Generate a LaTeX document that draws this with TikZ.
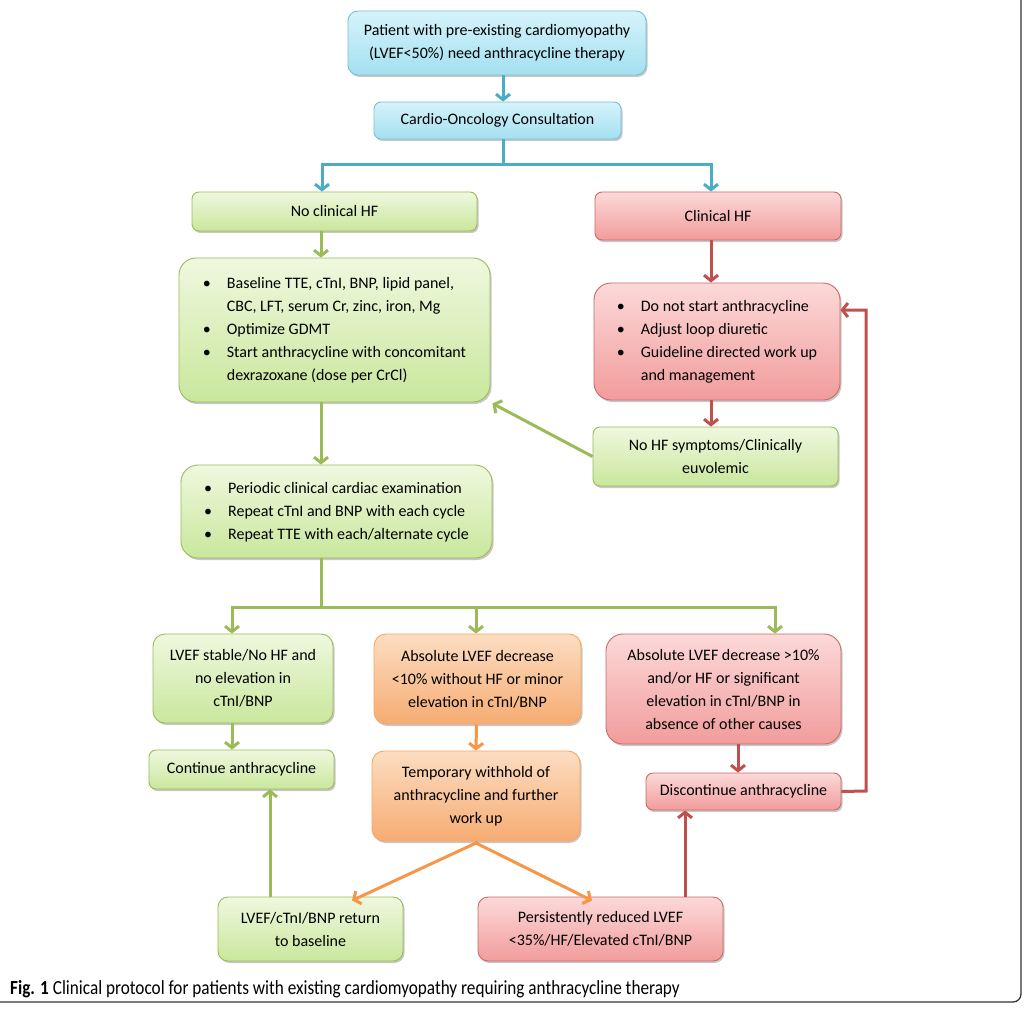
\documentclass[tikz,border=0pt]{standalone}
\usepackage{fontspec}
\setmainfont{Carlito}
\usetikzlibrary{arrows.meta,shadows,calc}
\definecolor{bluefillA}{HTML}{D6F3FB}
\definecolor{bluefillB}{HTML}{A3E0F0}
\definecolor{blueline}{HTML}{4BACC6}
\definecolor{greenfillA}{HTML}{EFF8DF}
\definecolor{greenfillB}{HTML}{C9E79C}
\definecolor{greenline}{HTML}{9BBB59}
\definecolor{redfillA}{HTML}{FCD9D9}
\definecolor{redfillB}{HTML}{F19C9B}
\definecolor{redline}{HTML}{C0504D}
\definecolor{orfillA}{HTML}{FCDDC2}
\definecolor{orfillB}{HTML}{F6AC72}
\definecolor{orline}{HTML}{F79646}
\newcommand\bitem[1]{\textbullet & #1}
\newcommand\citem[1]{ & #1}
\begin{document}
\begin{tikzpicture}[x=1pt,y=-1pt,
  box/.style={draw, line width=0.9pt, inner sep=0pt, align=center,
    font=\fontsize{16}{23}\selectfont, rounded corners=7pt,
    drop shadow={shadow xshift=1.5pt, shadow yshift=-2pt, opacity=0.22, fill=black}},
  bluebox/.style={box, draw=blueline!75, top color=bluefillA, bottom color=bluefillB},
  greenbox/.style={box, draw=greenline, top color=greenfillA, bottom color=greenfillB},
  redbox/.style={box, draw=redline!85, top color=redfillA, bottom color=redfillB},
  orbox/.style={box, draw=orline!85, top color=orfillA, bottom color=orfillB},
  big/.style={rounded corners=17pt},
  arr/.style={line width=3pt, -{Straight Barb[length=5.5pt,width=14pt]}},
  ln/.style={line width=3pt}
]
\useasboundingbox (0,0) rectangle (1024,1008);
\fill[white] (0,0) rectangle (1024,1008);

% nodes
\node[bluebox, rounded corners=10pt, minimum width=298pt, minimum height=64pt] (top) at (497,43)
  {Patient with pre-existing cardiomyopathy\\(LVEF<50\%) need anthracycline therapy};
\node[bluebox, minimum width=247pt, minimum height=37pt] (cons) at (497.5,120.5) {Cardio-Oncology Consultation};
\node[greenbox, minimum width=285pt, minimum height=39pt] (nohf) at (334.5,211.5) {No clinical HF};
\node[redbox, minimum width=246pt, minimum height=48pt] (clin) at (718,216) {Clinical HF};
\node[greenbox, big, minimum width=311pt, minimum height=144pt] (base) at (334.5,330)
  {\begin{tabular}{@{}l@{\hspace{16pt}}l@{}}
   \bitem{Baseline TTE, cTnI, BNP, lipid panel,}\\
   \citem{CBC, LFT, serum Cr, zinc, iron, Mg}\\
   \bitem{Optimize GDMT}\\
   \bitem{Start anthracycline with concomitant}\\
   \citem{dexrazoxane (dose per CrCl)}
   \end{tabular}};
\node[redbox, big, minimum width=246pt, minimum height=117pt] (redb) at (717,341.5)
  {\begin{tabular}{@{}l@{\hspace{16pt}}l@{}}
   \bitem{Do not start anthracycline}\\
   \bitem{Adjust loop diuretic}\\
   \bitem{Guideline directed work up}\\
   \citem{and management}
   \end{tabular}};
\node[greenbox, minimum width=245pt, minimum height=59pt] (nosym) at (715.5,456.5)
  {No HF symptoms/Clinically\\euvolemic};
\node[greenbox, big, minimum width=311pt, minimum height=93pt] (peri) at (336.5,511.5)
  {\begin{tabular}{@{}l@{\hspace{16pt}}l@{}}
   \bitem{Periodic clinical cardiac examination}\\
   \bitem{Repeat cTnI and BNP with each cycle}\\
   \bitem{Repeat TTE with each/alternate cycle}
   \end{tabular}};
\node[greenbox, rounded corners=12pt, minimum width=180pt, minimum height=89pt] (stab) at (243,678.5)
  {LVEF stable/No HF and\\no elevation in\\cTnI/BNP};
\node[orbox, rounded corners=12pt, minimum width=207pt, minimum height=90pt] (abs1) at (477.5,679)
  {Absolute LVEF decrease\\<10\% without HF or minor\\elevation in cTnI/BNP};
\node[redbox, big, minimum width=235pt, minimum height=110pt] (abs2) at (723.5,689)
  {Absolute LVEF decrease >10\%\\and/or HF or significant\\elevation in cTnI/BNP in\\absence of other causes};
\node[greenbox, minimum width=185pt, minimum height=39pt] (cont) at (241.5,769.5) {Continue anthracycline};
\node[orbox, rounded corners=12pt, minimum width=208pt, minimum height=90pt] (temp) at (476,796)
  {Temporary withhold of\\anthracycline and further\\work up};
\node[redbox, minimum width=195pt, minimum height=37pt] (disc) at (743.5,791.5) {Discontinue anthracycline};
\node[greenbox, rounded corners=10pt, minimum width=185pt, minimum height=64pt] (ret) at (310.5,929)
  {LVEF/cTnI/BNP return\\to baseline};
\node[redbox, rounded corners=10pt, minimum width=245pt, minimum height=64pt] (pers) at (600.5,929)
  {Persistently reduced LVEF\\<35\%/HF/Elevated cTnI/BNP};

% coordinates
\coordinate (bsplit) at (503,165);
\coordinate (gsplit) at (321,607);
\coordinate (loopA) at (866,791);
\coordinate (loopB) at (866,310);
\coordinate (tsplit) at (476,843);

% blue connectors
\draw[arr, blueline] ([xshift=6pt]top.south) -- ([xshift=5.5pt]cons.north);
\draw[ln, blueline] ([xshift=5.5pt]cons.south) -- (bsplit);
\draw[arr, blueline] (bsplit) -| ([xshift=-12.5pt]nohf.north);
\draw[arr, blueline] (bsplit) -| ([xshift=-7pt]clin.north);

% green connectors
\draw[arr, greenline] ([xshift=-13.5pt]nohf.south) -- ([xshift=-13.5pt]base.north);
\draw[arr, greenline] ([xshift=-13.5pt]base.south) -- ([xshift=-15.5pt]peri.north);
\draw[arr, greenline] (nosym.west) -- ([xshift=2pt,yshift=-1pt]base.south east);
\draw[ln, greenline] ([xshift=-15.5pt]peri.south) -- (gsplit);
\draw[arr, greenline] (gsplit) -| ([xshift=-11pt]stab.north);
\draw[arr, greenline] (gsplit) -| ([xshift=-1.5pt]abs1.north);
\draw[arr, greenline] (gsplit) -| ([xshift=51.5pt]abs2.north);
\draw[arr, greenline] ([xshift=-11pt]stab.south) -- ([xshift=-9.5pt]cont.north);
\draw[arr, greenline] ([xshift=-40.5pt]ret.north) -- ([xshift=28.5pt]cont.south);

% red connectors
\draw[arr, redline] ([xshift=-7pt]clin.south) -- ([xshift=-6pt]redb.north);
\draw[arr, redline] ([xshift=-6pt]redb.south) -- ([xshift=-4.5pt]nosym.north);
\draw[arr, redline] ([xshift=14.5pt]abs2.south) -- ([xshift=-5.5pt]disc.north);
\draw[arr, redline] ([xshift=84.5pt]pers.north) -- ([xshift=-58.5pt]disc.south);
\draw[arr, redline] (disc.east) -- (loopA) -- (loopB) -- (redb.east |- loopB);

% orange connectors
\draw[arr, orline] ([xshift=-1pt]abs1.south) -- (temp.north);
\draw[ln, orline] (temp.south) -- (tsplit);
\draw[arr, orline] (tsplit) -- ([xshift=41.5pt,yshift=-4pt]ret.north);
\draw[arr, orline] (tsplit) -- ([xshift=-8.5pt,yshift=-4pt]pers.north);

% caption and frame
\node[anchor=base west, inner sep=0pt, font=\fontsize{20}{22}\selectfont] (cap) at (10,994)
  {\scalebox{0.86}[1]{\textbf{Fig. 1} Clinical protocol for patients with existing cardiomyopathy requiring anthracycline therapy}};
\draw[line width=1.3pt, black!80, rounded corners=8pt] (1021,0) -- (1021,1002) -- (0,1002);
\end{tikzpicture}
\end{document}
